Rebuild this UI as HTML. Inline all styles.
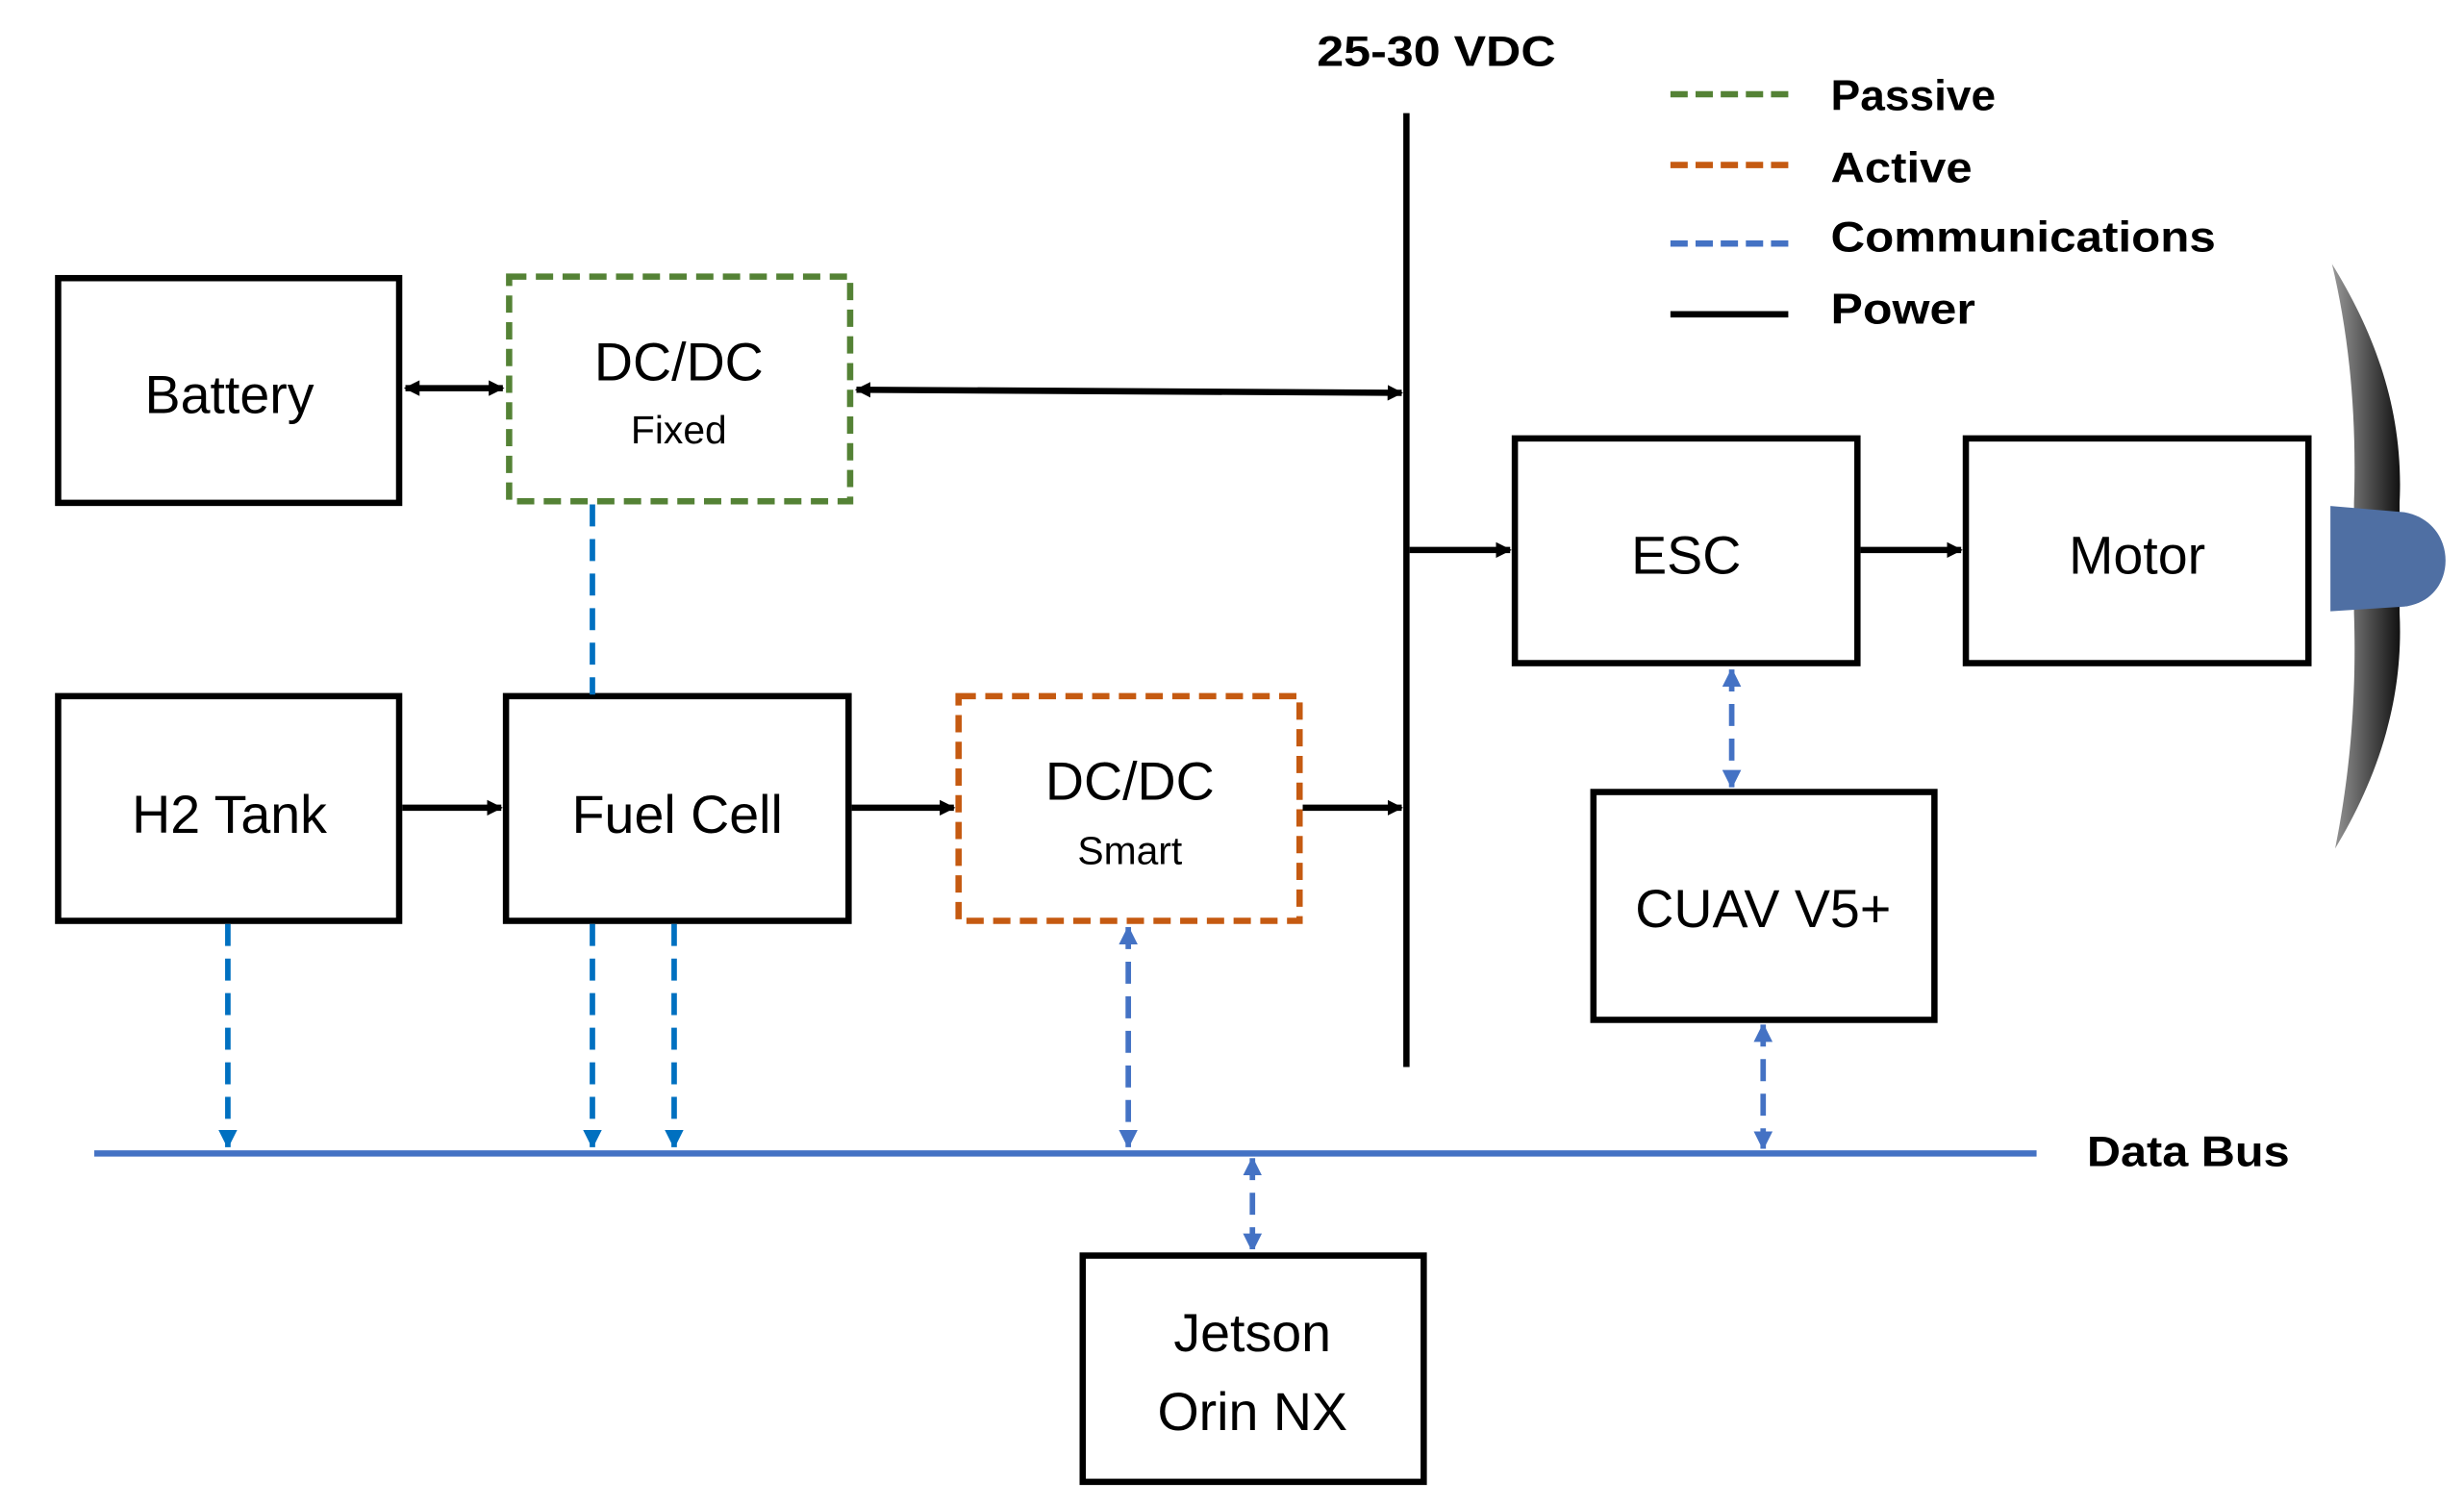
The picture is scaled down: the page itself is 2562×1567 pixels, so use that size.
<!DOCTYPE html>
<html><head><meta charset="utf-8"><style>html,body{margin:0;padding:0;background:#fff}svg{display:block}</style></head>
<body>
<svg width="2562" height="1567" viewBox="0 0 1568 959" preserveAspectRatio="none" xmlns="http://www.w3.org/2000/svg" font-family="'Liberation Sans', sans-serif">
<defs>
<marker id="ak" markerWidth="10" markerHeight="10" refX="9" refY="5" orient="auto-start-reverse" markerUnits="userSpaceOnUse"><path d="M0,0 L10,5 L0,10 z" fill="#000"/></marker>
<marker id="ab" markerWidth="10" markerHeight="12" refX="11" refY="6" orient="auto-start-reverse" markerUnits="userSpaceOnUse"><path d="M0,0 L12,6 L0,12 z" fill="#4472C4"/></marker>
<marker id="ab2" markerWidth="10" markerHeight="12" refX="11" refY="6" orient="auto-start-reverse" markerUnits="userSpaceOnUse"><path d="M0,0 L12,6 L0,12 z" fill="#0070C0"/></marker>
<linearGradient id="blade" x1="0" x2="1"><stop offset="0" stop-color="#999"/><stop offset="0.5" stop-color="#555"/><stop offset="1" stop-color="#111"/></linearGradient>
</defs>
<g fill="none" stroke="#000" stroke-width="4">
<rect x="37" y="177" width="217" height="143"/>
<rect x="37" y="443" width="217" height="143"/>
<rect x="322" y="443" width="218" height="143"/>
<rect x="964" y="279" width="218" height="143"/>
<rect x="1251" y="279" width="218" height="143"/>
<rect x="1014" y="504" width="217" height="145"/>
<rect x="689" y="799" width="217" height="144"/>
</g>
<rect x="324" y="176" width="217" height="143" fill="none" stroke="#548235" stroke-width="4" stroke-dasharray="11,6"/>
<rect x="610" y="443" width="217" height="143" fill="none" stroke="#C55A11" stroke-width="4" stroke-dasharray="11,6"/>
<line x1="895" y1="72" x2="895" y2="679" stroke="#000" stroke-width="4"/>
<g stroke="#000" stroke-width="4" fill="none">
<line x1="258" y1="247" x2="320" y2="247" marker-start="url(#ak)" marker-end="url(#ak)"/>
<line x1="545" y1="248" x2="892" y2="250" marker-start="url(#ak)" marker-end="url(#ak)"/>
<line x1="897" y1="350" x2="961" y2="350" marker-end="url(#ak)"/>
<line x1="1184" y1="350" x2="1248" y2="350" marker-end="url(#ak)"/>
<line x1="256" y1="514" x2="319" y2="514" marker-end="url(#ak)"/>
<line x1="542" y1="514" x2="607" y2="514" marker-end="url(#ak)"/>
<line x1="829" y1="514" x2="892" y2="514" marker-end="url(#ak)"/>
</g>
<line x1="60" y1="734" x2="1296" y2="734" stroke="#4472C4" stroke-width="4"/>
<g stroke-width="3.5" stroke-dasharray="14,8" fill="none">
<line x1="377" y1="321" x2="377" y2="442" stroke="#0070C0"/>
<line x1="145" y1="588" x2="145" y2="730" stroke="#0070C0" marker-end="url(#ab2)"/>
<line x1="377" y1="588" x2="377" y2="730" stroke="#0070C0" marker-end="url(#ab2)"/>
<line x1="429" y1="588" x2="429" y2="730" stroke="#0070C0" marker-end="url(#ab2)"/>
<line x1="718" y1="590" x2="718" y2="730" stroke="#4472C4" marker-start="url(#ab)" marker-end="url(#ab)"/>
<line x1="797" y1="737" x2="797" y2="796" stroke="#4472C4" marker-start="url(#ab)" marker-end="url(#ab)"/>
<line x1="1122" y1="652" x2="1122" y2="731" stroke="#4472C4" marker-start="url(#ab)" marker-end="url(#ab)"/>
<line x1="1102" y1="426" x2="1102" y2="501" stroke="#4472C4" marker-start="url(#ab)" marker-end="url(#ab)"/>
</g>
<g stroke-width="4" fill="none">
<line x1="1063" y1="60" x2="1138" y2="60" stroke="#548235" stroke-dasharray="11,5"/>
<line x1="1063" y1="105" x2="1138" y2="105" stroke="#C55A11" stroke-dasharray="11,5"/>
<line x1="1063" y1="155" x2="1138" y2="155" stroke="#4472C4" stroke-dasharray="11,5"/>
<line x1="1063" y1="200" x2="1138" y2="200" stroke="#000"/>
</g>
<g font-weight="bold" font-size="27" fill="#000" lengthAdjust="spacingAndGlyphs">
<text x="838" y="42" textLength="152" lengthAdjust="spacingAndGlyphs">25-30 VDC</text>
<text x="1165" y="70" textLength="105" lengthAdjust="spacingAndGlyphs">Passive</text>
<text x="1165" y="116" textLength="90" lengthAdjust="spacingAndGlyphs">Active</text>
<text x="1165" y="160" textLength="245" lengthAdjust="spacingAndGlyphs">Communications</text>
<text x="1165" y="206" textLength="92" lengthAdjust="spacingAndGlyphs">Power</text>
<text x="1328" y="742" textLength="129" lengthAdjust="spacingAndGlyphs">Data Bus</text>
</g>
<g font-size="34" fill="#000" text-anchor="middle">
<text x="146" y="263">Battery</text>
<text x="432" y="242">DC/DC</text>
<text x="432" y="282" font-size="25">Fixed</text>
<text x="146" y="530">H2 Tank</text>
<text x="431" y="530">Fuel Cell</text>
<text x="719" y="509">DC/DC</text>
<text x="719" y="550" font-size="25">Smart</text>
<text x="1073" y="365">ESC</text>
<text x="1360" y="365">Motor</text>
<text x="1122" y="590">CUAV V5+</text>
<text x="797" y="860">Jetson</text>
<text x="797" y="910">Orin NX</text>
</g>
<path d="M1484,168 C1510,210 1530,260 1527,320 L1527,390 C1530,450 1510,500 1486,540 C1494,500 1500,450 1498,390 L1498,320 C1500,260 1494,210 1484,168 Z" fill="url(#blade)"/>
<path d="M1483,322 L1530,326 C1565,332 1565,382 1530,386 L1483,389 Z" fill="#4f6fa3"/>
</svg>
</body></html>
